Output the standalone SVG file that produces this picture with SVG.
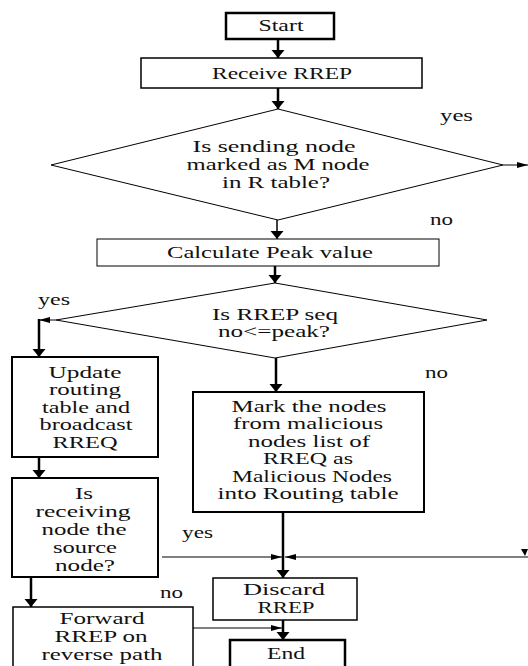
<svg xmlns="http://www.w3.org/2000/svg" width="528" height="666" viewBox="0 0 528 666">
<style>
.b{fill:#fff;stroke:#000}
.t{font-family:'Liberation Serif','DejaVu Serif',serif;font-size:16px;fill:#111;text-anchor:middle}
.l{font-family:'Liberation Serif','DejaVu Serif',serif;font-size:16px;fill:#111}
.c{fill:none;stroke:#000}
.k{stroke-width:2.5}
.n{stroke-width:1}
</style>
<defs>
<marker id="ah" markerUnits="userSpaceOnUse" markerWidth="14" markerHeight="14" refX="9" refY="7" orient="auto">
<path d="M1,0.5 L9,7 L1,13.5 z" fill="#000"/>
</marker>
<marker id="as" markerUnits="userSpaceOnUse" markerWidth="12" markerHeight="8" refX="11" refY="4" orient="auto">
<path d="M0,1 L11,4 L0,7 z" fill="#000"/>
</marker>
</defs>
<rect width="528" height="666" fill="#fff"/>

<g id="start">
<rect class="b" x="226" y="13" width="108" height="26" stroke-width="2.5"/>
<text class="t" font-family="Liberation Serif" x="281" y="31" textLength="45" lengthAdjust="spacingAndGlyphs">Start</text>
</g>
<g id="receive">
<rect class="b" x="141" y="58" width="281" height="30" stroke-width="1.5"/>
<text class="t" x="282" y="79" textLength="140" lengthAdjust="spacingAndGlyphs">Receive RREP</text>
</g>
<g id="decision1">
<polygon class="b" points="278,109 503,165 278,220 51,165" stroke-width="1"/>
<text class="t" x="274" y="152" textLength="163" lengthAdjust="spacingAndGlyphs">Is sending node</text>
<text class="t" x="278" y="170" textLength="183" lengthAdjust="spacingAndGlyphs">marked as M node</text>
<text class="t" x="276" y="188" textLength="108" lengthAdjust="spacingAndGlyphs">in R table?</text>
</g>
<g id="calc">
<rect class="b" x="97" y="239" width="342" height="27" stroke-width="1"/>
<text class="t" x="270" y="258" textLength="206" lengthAdjust="spacingAndGlyphs">Calculate Peak value</text>
</g>
<g id="decision2">
<polygon class="b" points="275,283 487,320 275,358 56,320" stroke-width="1"/>
<text class="t" x="275" y="320" textLength="126" lengthAdjust="spacingAndGlyphs">Is RREP seq</text>
<text class="t" x="274" y="337" textLength="112" lengthAdjust="spacingAndGlyphs">no&lt;=peak?</text>
</g>
<g id="update">
<rect class="b" x="12" y="357" width="146" height="100" stroke-width="2"/>
<text class="t" x="85" y="378" textLength="73" lengthAdjust="spacingAndGlyphs">Update</text>
<text class="t" x="85" y="395" textLength="72" lengthAdjust="spacingAndGlyphs">routing</text>
<text class="t" x="86" y="413" textLength="88" lengthAdjust="spacingAndGlyphs">table and</text>
<text class="t" x="86" y="430" textLength="93" lengthAdjust="spacingAndGlyphs">broadcast</text>
<text class="t" x="85" y="448" textLength="65" lengthAdjust="spacingAndGlyphs">RREQ</text>
</g>
<g id="mark">
<rect class="b" x="193" y="392" width="231" height="120" stroke-width="2"/>
<text class="t" x="309" y="412" textLength="155" lengthAdjust="spacingAndGlyphs">Mark the nodes</text>
<text class="t" x="308" y="429" textLength="150" lengthAdjust="spacingAndGlyphs">from malicious</text>
<text class="t" x="309" y="447" textLength="122" lengthAdjust="spacingAndGlyphs">nodes list of</text>
<text class="t" x="308" y="464" textLength="90" lengthAdjust="spacingAndGlyphs">RREQ as</text>
<text class="t" x="312" y="482" textLength="160" lengthAdjust="spacingAndGlyphs">Malicious Nodes</text>
<text class="t" x="308" y="499" textLength="181" lengthAdjust="spacingAndGlyphs">into Routing table</text>
</g>
<g id="receiving">
<rect class="b" x="12" y="478" width="146" height="99" stroke-width="2"/>
<text class="t" x="84" y="499" textLength="18" lengthAdjust="spacingAndGlyphs">Is</text>
<text class="t" x="83" y="517" textLength="95" lengthAdjust="spacingAndGlyphs">receiving</text>
<text class="t" x="84" y="535" textLength="85" lengthAdjust="spacingAndGlyphs">node the</text>
<text class="t" x="85" y="553" textLength="64" lengthAdjust="spacingAndGlyphs">source</text>
<text class="t" x="85" y="571" textLength="60" lengthAdjust="spacingAndGlyphs">node?</text>
</g>
<g id="discard">
<rect class="b" x="213" y="578" width="144" height="42" stroke-width="1.5"/>
<text class="t" x="284" y="595" textLength="82" lengthAdjust="spacingAndGlyphs">Discard</text>
<text class="t" x="286" y="613" textLength="57" lengthAdjust="spacingAndGlyphs">RREP</text>
</g>
<g id="forward">
<rect class="b" x="13" y="607" width="180" height="64" stroke-width="1.5"/>
<text class="t" x="102" y="624" textLength="85" lengthAdjust="spacingAndGlyphs">Forward</text>
<text class="t" x="101" y="642" textLength="93" lengthAdjust="spacingAndGlyphs">RREP on</text>
<text class="t" x="102" y="660" textLength="121" lengthAdjust="spacingAndGlyphs">reverse path</text>
</g>
<g id="end">
<rect class="b" x="230" y="640" width="115" height="32" stroke-width="2.5"/>
<text class="t" x="286" y="659" textLength="38" lengthAdjust="spacingAndGlyphs">End</text>
</g>

<g id="connectors">
<path class="c k" d="M278,39 V58" marker-end="url(#ah)"/>
<path class="c k" d="M278,88 V109" marker-end="url(#ah)"/>
<path class="c n" d="M503,165 H528" marker-end="url(#as)"/>
<path class="c" stroke-width="1.5" d="M277,220 V239" marker-end="url(#ah)"/>
<path class="c k" d="M275,266 V283" marker-end="url(#ah)"/>
<path class="c n" d="M56,320 H39" marker-end="url(#as)"/>
<path class="c k" d="M39,319 V357" marker-end="url(#ah)"/>
<path class="c k" d="M276,358 V392" marker-end="url(#ah)"/>
<path class="c k" d="M39,457 V478" marker-end="url(#ah)"/>
<path class="c n" d="M162,557 H282" marker-end="url(#as)"/>
<path class="c n" d="M528,557 H285" marker-end="url(#as)"/>
<polygon points="521,549 528,549 525,556" fill="#000"/>
<path class="c k" d="M283,512 V578" marker-end="url(#ah)"/>
<path class="c k" d="M31,577 V607" marker-end="url(#ah)"/>
<path class="c n" d="M193,628 H282" marker-end="url(#as)"/>
<path class="c k" d="M283,620 V640" marker-end="url(#ah)"/>
<text class="l" x="440" y="121" textLength="33" lengthAdjust="spacingAndGlyphs">yes</text>
<text class="l" x="430" y="225" textLength="23" lengthAdjust="spacingAndGlyphs">no</text>
<text class="l" x="38" y="305" textLength="32" lengthAdjust="spacingAndGlyphs">yes</text>
<text class="l" x="425" y="378" textLength="23" lengthAdjust="spacingAndGlyphs">no</text>
<text class="l" x="182" y="538" textLength="31" lengthAdjust="spacingAndGlyphs">yes</text>
<text class="l" x="160" y="598" textLength="23" lengthAdjust="spacingAndGlyphs">no</text>
</g>
</svg>
